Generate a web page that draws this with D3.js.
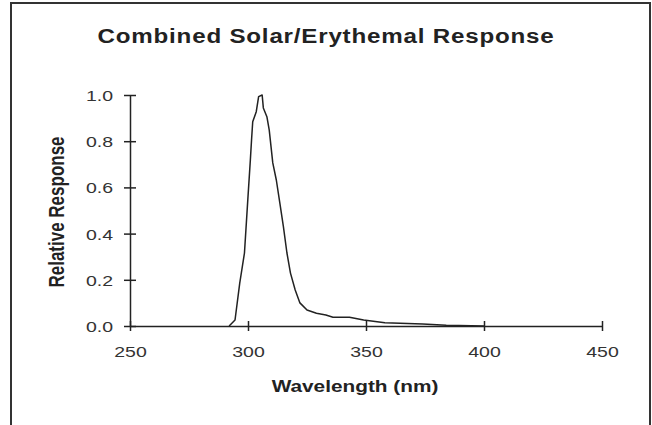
<!DOCTYPE html>
<html><head><meta charset="utf-8">
<script src="https://cdn.jsdelivr.net/npm/d3@7/dist/d3.min.js"></script>
<style>
html,body{margin:0;padding:0;background:#fff;}
svg{display:block;}
text{font-family:"Liberation Sans",Arial,sans-serif;}
</style></head>
<body>
<svg id="chart" width="652" height="425"></svg>
<script>
const wavelength = [292, 294.5, 296.5, 298.5, 300, 301, 301.5, 302, 303.5, 304.5, 306, 306.5, 308, 309, 310.5, 312, 313.5, 315, 316.5, 318, 320, 322, 325, 329, 333, 336, 343, 349, 358, 374, 384, 400];
const response = [0, 0.026, 0.186, 0.316, 0.56, 0.719, 0.805, 0.884, 0.928, 0.993, 1.0, 0.944, 0.906, 0.848, 0.706, 0.632, 0.532, 0.43, 0.316, 0.229, 0.156, 0.1, 0.069, 0.055, 0.048, 0.038, 0.038, 0.026, 0.014, 0.009, 0.003, 0];
const xTicks = [250, 300, 350, 400, 450];
const yTicks = [0, 0.2, 0.4, 0.6, 0.8, 1.0];
const title = "Combined Solar/Erythemal Response";
const xTitle = "Wavelength (nm)";
const yTitle = "Relative Response";

const svg = d3.select("#chart");
const SX = 1.3;

// frame
svg.append("path")
  .attr("d", "M11,430 L11,3 L650,3 L650,430")
  .attr("fill", "none").attr("stroke", "#333").attr("stroke-width", 2);

const x = d3.scaleLinear().domain([250, 450]).range([130, 602]);
const y = d3.scaleLinear().domain([0, 1]).range([326, 95]);

// x axis
const gx = svg.append("g").attr("transform", `translate(0,${y(0)})`)
  .call(d3.axisBottom(x).tickValues(xTicks).tickSize(5).tickSizeOuter(0).tickPadding(0));
gx.select(".domain").attr("stroke", "#222").attr("stroke-width", 1.5);
gx.selectAll(".tick line").attr("y1", -5).attr("y2", 5).attr("stroke", "#222").attr("stroke-width", 1.5);
gx.selectAll(".tick text").attr("y", 31).attr("dy", 0)
  .attr("transform", `scale(${SX},1)`)
  .attr("font-size", 15).attr("fill", "#333").attr("font-family", "'Liberation Sans', Arial, sans-serif");

// y axis
const gy = svg.append("g").attr("transform", `translate(${x(250)},0)`)
  .call(d3.axisLeft(y).tickValues(yTicks).tickFormat(d3.format(".1f")).tickSize(6).tickSizeOuter(0));
gy.select(".domain").attr("stroke", "#222").attr("stroke-width", 1.5);
gy.selectAll(".tick line").attr("x1", -6).attr("x2", 6).attr("stroke", "#222").attr("stroke-width", 1.5);
gy.selectAll(".tick text").attr("x", -17 / SX).attr("dy", "0.36em")
  .attr("transform", `scale(${SX},1)`)
  .attr("font-size", 15).attr("fill", "#333").attr("font-family", "'Liberation Sans', Arial, sans-serif");

// line
const line = d3.line().x((d, i) => x(wavelength[i])).y(d => y(d));
svg.append("path").datum(response)
  .attr("d", line).attr("fill", "none")
  .attr("stroke", "#222").attr("stroke-width", 1.5).attr("stroke-linejoin", "round");

// titles
svg.append("text").text(title)
  .attr("transform", `translate(326,43) scale(1.15,1)`)
  .attr("text-anchor", "middle").attr("font-weight", "bold").attr("font-size", 21)
  .attr("letter-spacing", 0.7).attr("fill", "#222");

svg.append("text").text(xTitle)
  .attr("transform", `translate(355,392) scale(${SX},1)`)
  .attr("text-anchor", "middle").attr("font-weight", "bold").attr("font-size", 16).attr("fill", "#222");

svg.append("text").text(yTitle)
  .attr("transform", `translate(64,212) rotate(-90) scale(1,${SX})`)
  .attr("text-anchor", "middle").attr("font-weight", "bold").attr("font-size", 17).attr("fill", "#222");
</script>
</body></html>
